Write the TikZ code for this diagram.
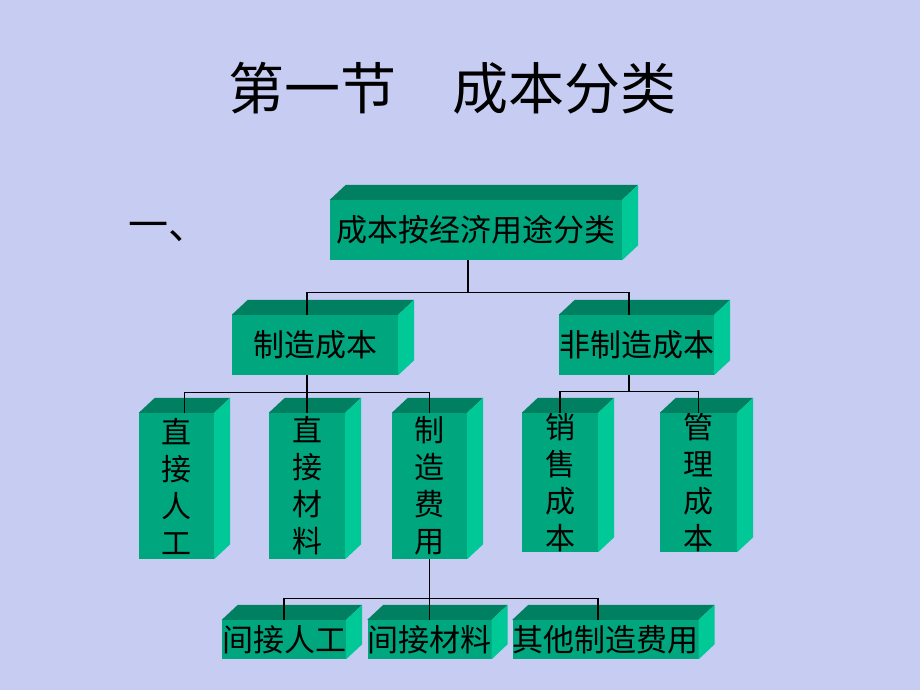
\documentclass[tikz,border=0pt]{standalone}
\usepackage{fontspec}
\setmainfont{Noto Sans CJK SC}
\usetikzlibrary{calc}
\definecolor{slidebg}{RGB}{198,204,242}
\definecolor{boxfront}{RGB}{0,166,126}
\definecolor{boxtop}{RGB}{0,128,96}
\definecolor{boxside}{RGB}{0,200,150}
\tikzstyle{costbox} = [rectangle, fill=boxfront, inner sep=0pt, text centered, font=\fontsize{31}{37}\selectfont]
\tikzstyle{tallbox} = [costbox, align=center, minimum height=146pt, font=\fontsize{30}{37}\selectfont]
\tikzstyle{link} = [line width=1.2pt, black]
% top and side faces of a box
\newcommand{\boxfaces}[1]{%
  \fill[boxtop] (#1.north west) -- ++(16,-15) -- ($(#1.north east)+(16,-15)$) -- (#1.north east) -- cycle;
  \fill[boxside] (#1.north east) -- ++(16,-15) -- ($(#1.south east)+(16,-15)$) -- (#1.south east) -- cycle;}

\begin{document}
\begin{tikzpicture}[x=1pt, y=-1pt]
\fill[slidebg] (0,0) rectangle (920,690);
\useasboundingbox (0,0) rectangle (920,690);

\node (title) at (452,88) {\fontsize{56}{60}\selectfont 第一节　成本分类};
\node (num) at (168,232) {\fontsize{40}{44}\selectfont 一、};

\node (cost) [costbox, minimum width=292pt, minimum height=60pt] at (476,230) {成本按经济用途分类};

\node (mfg) [costbox, minimum width=166pt, minimum height=60pt] at (315,345) {制造成本};
\node (nonmfg) [costbox, minimum width=153pt, minimum height=60pt] at (636.5,345) {非制造成本};

\node (dl) [tallbox, minimum width=75pt] at (176.5,486) {直\\接\\人\\工};
\node (dm) [tallbox, minimum width=76pt] at (307,486) {直\\接\\材\\料};
\node (oh) [tallbox, minimum width=75pt] at (429.5,486) {制\\造\\费\\用};
\node (sell) [tallbox, minimum width=76pt, minimum height=139pt] at (560,482.5) {销\\售\\成\\本};
\node (admin) [tallbox, minimum width=77pt, minimum height=139pt] at (698.5,482.5) {管\\理\\成\\本};

\node (il) [costbox, minimum width=122pt, minimum height=39pt] at (284,639.5) {间接人工};
\node (im) [costbox, minimum width=121pt, minimum height=39pt] at (429.5,639.5) {间接材料};
\node (other) [costbox, minimum width=183pt, minimum height=39pt] at (605.5,639.5) {其他制造费用};

\boxfaces{cost}
\boxfaces{mfg}
\boxfaces{nonmfg}
\boxfaces{dl}
\boxfaces{dm}
\boxfaces{oh}
\boxfaces{sell}
\boxfaces{admin}
\boxfaces{il}
\boxfaces{im}
\boxfaces{other}

\draw [link] ([xshift=-8]cost.south) -- ++(0,32) -| ([xshift=-8]mfg.north);
\draw [link] ([xshift=-8]cost.south) -- ++(0,32) -| ([xshift=-7.5]nonmfg.north);

\draw [link] ([xshift=-8]mfg.south) -- ++(0,17) -| ([xshift=8]dl.north);
\draw [link] ([xshift=-8]mfg.south) -- ++(0,17) -| (dm.north);
\draw [link] ([xshift=-8]mfg.south) -- ++(0,17) -| (oh.north);

\draw [link] ([xshift=-7.5]nonmfg.south) -- ++(0,16) -| (sell.north);
\draw [link] ([xshift=-7.5]nonmfg.south) -- ++(0,16) -| (admin.north);

\draw [link] (oh.south) -- ++(0,39) -| (il.north);
\draw [link] (oh.south) -- ++(0,39) -| (im.north);
\draw [link] (oh.south) -- ++(0,39) -| ([xshift=-7.5]other.north);
\end{tikzpicture}
\end{document}
